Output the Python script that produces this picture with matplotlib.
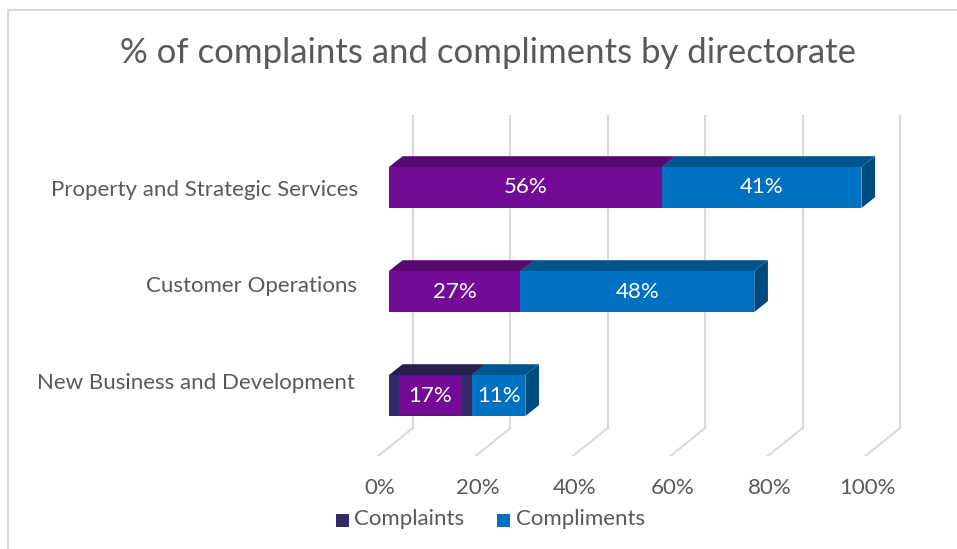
import numpy as np
import matplotlib
matplotlib.use("Agg")
from matplotlib import pyplot as plt
from matplotlib.patches import Polygon, Rectangle

plt.rcParams['font.family'] = ['Lato', 'DejaVu Sans']

directorates = ["New Business and Development", "Customer Operations", "Property and Strategic Services"]
complaints = [17, 27, 56]
compliments = [11, 48, 41]
complaint_colors = ["#322A6C", "#720C96", "#720C96"]
ticks = [0, 20, 40, 60, 80, 100]

text_grey = "#595959"
grid_grey = "#D9D9D9"
blue = "#0070C0"
purple = "#720C96"
fs = 16


def shade(c, f):
    r, g, b = matplotlib.colors.to_rgb(c)
    return (r * f, g * f, b * f)


fig = plt.figure(figsize=(9.57, 5.49), dpi=100)
ax = fig.add_axes([0.381, 0.1693, 0.5853, 0.6218])
ax.set_xlim(-5, 110)
ax.set_ylim(-0.582, 2.7)
ax.axis("off")

# fake 3d: depth offsets in data units
bx, by = 2.8, 0.104          # bar depth
gx = 4.93                    # back wall shift from bar front
fx, fy = -2.26, -0.27        # floor front edge from bar front
floor_back = -0.3125
top = 2.6875
h = 0.394

for v in ticks:
    ax.plot([v + gx, v + gx], [floor_back, top], color=grid_grey, lw=1.5, zorder=1)
    ax.plot([v + gx, v + fx], [floor_back, floor_back + fy], color=grid_grey, lw=1.5, zorder=1)
    ax.text(v + fx + 0.4, -0.889, "{}%".format(v), ha="center", va="center",
            fontsize=fs, color=text_grey)


def bar3d(y, left, width, color):
    r = left + width
    ax.add_patch(Polygon([(r, y - h / 2), (r, y + h / 2), (r + bx, y + h / 2 + by),
                          (r + bx, y - h / 2 + by)], closed=True,
                         facecolor=shade(color, 0.65), edgecolor="none", zorder=3))
    ax.add_patch(Polygon([(left, y + h / 2), (r, y + h / 2), (r + bx, y + h / 2 + by),
                          (left + bx, y + h / 2 + by)], closed=True,
                         facecolor=shade(color, 0.75), edgecolor="none", zorder=3))
    ax.add_patch(Rectangle((left, y - h / 2), width, h, facecolor=color, edgecolor="none", zorder=3))


ypos = np.arange(len(directorates))
for i in range(len(directorates)):
    bar3d(ypos[i], 0, complaints[i], complaint_colors[i])
    bar3d(ypos[i], complaints[i], compliments[i], blue)
    box = None
    if complaint_colors[i] != purple:
        box = dict(boxstyle="square,pad=0.42", facecolor=purple, edgecolor="none")
    ax.text(complaints[i] / 2, ypos[i], "{}%".format(complaints[i]), ha="center", va="center",
            color="white", fontsize=fs, zorder=5, bbox=box)
    ax.text(complaints[i] + compliments[i] / 2, ypos[i], "{}%".format(compliments[i]),
            ha="center", va="center", color="white", fontsize=fs, zorder=5)

# category labels
label_y = ypos * 0.93 + 0.12
label_x = [-6.9, -6.5, -6.4]
for i in range(len(directorates)):
    ax.text(label_x[i], label_y[i], directorates[i], ha="right", va="center",
            fontsize=fs, color=text_grey, clip_on=False)

fig.text(0.51, 0.903, "% of complaints and compliments by directorate", ha="center", va="center",
         fontsize=25, color=text_grey)

# legend
fig.patches.append(Rectangle((336 / 957, 1 - 527 / 549), 13 / 957, 13 / 549,
                             transform=fig.transFigure, facecolor="#322A6C", figure=fig))
fig.text(354 / 957, 1 - 519 / 549, "Complaints", ha="left", va="center", fontsize=fs, color=text_grey)
fig.patches.append(Rectangle((497 / 957, 1 - 527 / 549), 13 / 957, 13 / 549,
                             transform=fig.transFigure, facecolor=blue, figure=fig))
fig.text(516 / 957, 1 - 519 / 549, "Compliments", ha="left", va="center", fontsize=fs, color=text_grey)

# chart border
fig.patches.append(Rectangle((8 / 957, -0.1), 1.2, 1 - 10 / 549 + 0.1, transform=fig.transFigure,
                             facecolor="none", edgecolor=grid_grey, lw=1.5, figure=fig))

fig.savefig("out.png", dpi=100)
